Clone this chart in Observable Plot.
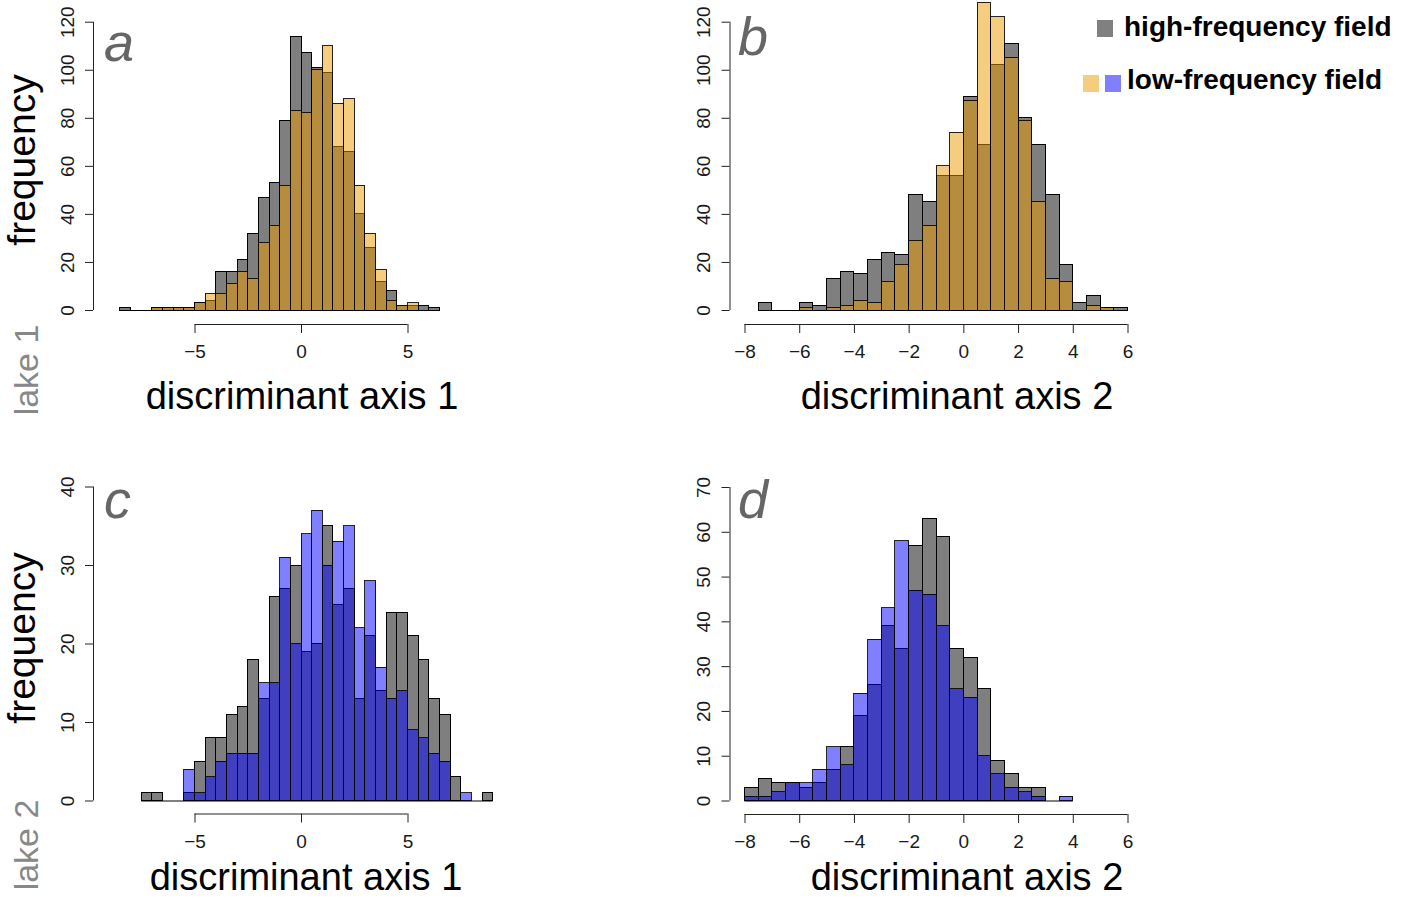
<!DOCTYPE html>
<html><head><meta charset="utf-8">
<script src="https://cdn.jsdelivr.net/npm/d3@7"></script>
<script src="https://cdn.jsdelivr.net/npm/@observablehq/plot@0.6"></script>
<style>
body{margin:0;background:#fff;font-family:"Liberation Sans",Arial,Helvetica,sans-serif;}
#page{position:relative;width:1405px;height:899px;overflow:hidden;background:#fff;}
.abs{position:absolute;white-space:nowrap;line-height:1;}
#page svg{position:absolute;overflow:visible;}
#page svg rect{shape-rendering:crispEdges;}
</style></head><body><div id="page"></div>
<script>
// ---------- data (histogram counts, bin width 0.5) ----------
const binWidth = 0.5;
const highColor = "#000000";      // drawn at 50% opacity -> grey
const lowColorLake1 = "#ee9a00";  // orange, 50% opacity
const lowColorLake2 = "#0000ff";  // blue, 50% opacity

// panel a: lake 1, discriminant axis 1
const binsA = [-8.5,-8,-7.5,-7,-6.5,-6,-5.5,-5,-4.5,-4,-3.5,-3,-2.5,-2,-1.5,-1,-0.5,0,0.5,1,1.5,2,2.5,3,3.5,4,4.5,5,5.5,6];
const highA = [1,0,0,1,1,1,1,3,4,16,16,21,32,47,53,79,114,107,101,99,68,66,40,26,12,8,2,2,2,1];
const lowA  = [0,0,0,1,1,1,1,3,7,7,11,16,13,28,35,52,83,82,100,110,86,88,52,32,17,4,2,3,0,0];

// panel b: lake 1, discriminant axis 2
const binsB = [-7.5,-7,-6.5,-6,-5.5,-5,-4.5,-4,-3.5,-3,-2.5,-2,-1.5,-1,-0.5,0,0.5,1,1.5,2,2.5,3,3.5,4,4.5,5,5.5];
const highB = [3,0,0,3,2,13,16,15,21,24,23,48,45,56,56,89,69,102,111,80,69,48,19,3,6,1,1];
const lowB  = [0,0,0,1,0,1,2,4,3,12,19,29,35,60,74,87,128,122,105,79,45,13,12,0,2,1,0];

// panel c: lake 2, discriminant axis 1
const binsC = [-7.5,-7,-6.5,-6,-5.5,-5,-4.5,-4,-3.5,-3,-2.5,-2,-1.5,-1,-0.5,0,0.5,1,1.5,2,2.5,3,3.5,4,4.5,5,5.5,6,6.5,7,7.5,8,8.5];
const highC = [1,1,0,0,1,5,8,8,11,12,18,13,26,27,30,19,20,35,25,27,13,21,14,24,24,21,18,13,11,3,0,0,1];
const lowC  = [0,0,0,0,4,1,3,5,6,6,6,15,15,31,20,34,37,30,33,35,22,28,17,13,14,9,8,6,5,0,1,0,0];

// panel d: lake 2, discriminant axis 2
const binsD = [-8,-7.5,-7,-6.5,-6,-5.5,-5,-4.5,-4,-3.5,-3,-2.5,-2,-1.5,-1,-0.5,0,0.5,1,1.5,2,2.5,3,3.5];
const highD = [3,5,4,4,3,4,7,12,19,26,39,34,57,63,59,34,32,25,9,6,3,3,0,0];
const lowD  = [1,1,2,4,4,7,12,8,24,36,43,58,47,46,39,25,23,10,6,3,2,1,0,1];

// tick values
const xTicksAxis1 = [-5, 0, 5];
const xTicksAxis2 = [-8, -6, -4, -2, 0, 2, 4, 6];
const yTicksLake1 = [0, 20, 40, 60, 80, 100, 120];
const yTicksLake2c = [0, 10, 20, 30, 40];
const yTicksLake2d = [0, 10, 20, 30, 40, 50, 60, 70];

// text
const panelLetters = ["a", "b", "c", "d"];
const xTitles = ["discriminant axis 1", "discriminant axis 2"];
const yTitle = "frequency";
const lakeLabels = ["lake 1", "lake 2"];
const legendLabels = ["high-frequency field", "low-frequency field"];

// ---------- drawing ----------
const page = document.getElementById("page");
const FONT = '"Liberation Sans", Arial, Helvetica, sans-serif';
const TICK_FS = 19;
const fmt = d => d < 0 ? "\u2212" + (-d) : String(d);

function rows(bins, counts) {
  return bins.map((b, i) => ({x1: b, x2: b + binWidth, n: counts[i]}));
}

function panel(o) {
  const W = o.width, H = o.height;
  const xl = o.xPx[0] - o.left, xr = o.xPx[1] - o.left;
  const yb = o.yPx[0] - o.top, yt = o.yPx[1] - o.top;
  const hi = rows(o.bins, o.high), lo = rows(o.bins, o.low);
  const dxAxis = (o.yAxisX - o.left) - xl;
  const dyAxis = (o.xAxisY - o.top) - yb;
  const svg = Plot.plot({
    width: W, height: H,
    marginLeft: xl, marginRight: W - xr, marginTop: yt, marginBottom: H - yb,
    x: {domain: d3.extent(o.xTicks)},
    y: {domain: d3.extent(o.yTicks)},
    style: {background: "transparent", overflow: "visible", fontFamily: FONT, fontSize: TICK_FS + "px", color: "#1a1a1a"},
    marks: [
      Plot.ruleY([0], {x1: d3.min(hi, d => d.x1), x2: d3.max(hi, d => d.x2), stroke: "#000", strokeWidth: 1}),
      Plot.rectY(hi, {x1: "x1", x2: "x2", y: "n", fill: highColor, fillOpacity: 0.5, stroke: "#000", strokeWidth: 1}),
      Plot.rectY(lo, {x1: "x1", x2: "x2", y: "n", fill: o.lowColor, fillOpacity: 0.5, stroke: "#000", strokeOpacity: 0.85, strokeWidth: 1}),
      // x axis (R style, offset below the bars)
      Plot.ruleY([0], {dy: dyAxis, stroke: "#222", strokeWidth: 1}),
      Plot.axisX(o.xTicks, {anchor: "bottom", dy: dyAxis, tickSize: 9, tickPadding: 11, tickFormat: fmt, fontSize: TICK_FS, stroke: "#222", label: null}),
      // y axis
      Plot.ruleX([o.xTicks[0]], {dx: dxAxis, stroke: "#222", strokeWidth: 1}),
      Plot.axisY(o.yTicks, {anchor: "left", dx: dxAxis, tickSize: 8, tickPadding: 12, tickRotate: -90, tickFormat: fmt, fontSize: TICK_FS, stroke: "#222", label: null})
    ]
  });
  svg.style.left = o.left + "px";
  svg.style.top = o.top + "px";
  page.appendChild(svg);
}

panel({left: 0, top: 0, width: 700, height: 440, bins: binsA, high: highA, low: lowA, lowColor: lowColorLake1,
  xTicks: xTicksAxis1, xPx: [194.5, 407.5], yTicks: yTicksLake1, yPx: [310, 21.7], yAxisX: 93, xAxisY: 324});
panel({left: 700, top: 0, width: 705, height: 440, bins: binsB, high: highB, low: lowB, lowColor: lowColorLake1,
  xTicks: xTicksAxis2, xPx: [744.5, 1127.5], yTicks: yTicksLake1, yPx: [310, 21.7], yAxisX: 729.5, xAxisY: 324});
panel({left: 0, top: 440, width: 700, height: 459, bins: binsC, high: highC, low: lowC, lowColor: lowColorLake2,
  xTicks: xTicksAxis1, xPx: [194.5, 407.5], yTicks: yTicksLake2c, yPx: [800.5, 486.5], yAxisX: 93, xAxisY: 813.5});
panel({left: 700, top: 440, width: 705, height: 459, bins: binsD, high: highD, low: lowD, lowColor: lowColorLake2,
  xTicks: xTicksAxis2, xPx: [744.5, 1127.5], yTicks: yTicksLake2d, yPx: [800.5, 487], yAxisX: 729.5, xAxisY: 814});

// ---------- text labels ----------
function addText(txt, {x, y, size, color = "#000", weight = "normal", style = "normal", anchor = "start", rotate = false, parent = page}) {
  const d = document.createElement("div");
  d.className = "abs";
  d.textContent = txt;
  d.style.fontSize = size + "px";
  d.style.color = color;
  d.style.fontWeight = weight;
  d.style.fontStyle = style;
  d.style.fontFamily = FONT;
  if (rotate) {
    d.style.left = x + "px";
    d.style.top = y + "px";
    d.style.transform = "translate(-50%,-50%) rotate(-90deg)";
  } else {
    d.style.left = x + "px";
    d.style.top = (y - 0.8465 * size) + "px"; // y = baseline
    if (anchor === "middle") d.style.transform = "translateX(-50%)";
  }
  parent.appendChild(d);
  return d;
}

// panel letters
addText(panelLetters[0], {x: 104, y: 61, size: 54, color: "#666", style: "italic"});
addText(panelLetters[1], {x: 738, y: 55, size: 54, color: "#666", style: "italic"});
addText(panelLetters[2], {x: 104, y: 518, size: 54, color: "#666", style: "italic"});
addText(panelLetters[3], {x: 738, y: 518, size: 54, color: "#666", style: "italic"});

// x titles
addText(xTitles[0], {x: 302, y: 409, size: 38, anchor: "middle"});
addText(xTitles[1], {x: 957, y: 409, size: 38, anchor: "middle"});
addText(xTitles[0], {x: 306, y: 890, size: 38, anchor: "middle"});
addText(xTitles[1], {x: 967, y: 890, size: 38, anchor: "middle"});

// y titles
addText(yTitle, {x: 21, y: 160, size: 39, rotate: true});
addText(yTitle, {x: 21, y: 638, size: 39, rotate: true});
addText(lakeLabels[0], {x: 26, y: 370, size: 34, color: "#888", rotate: true});
addText(lakeLabels[1], {x: 26, y: 845, size: 34, color: "#888", rotate: true});

// legend
const leg = document.createElement("div");
leg.style.cssText = "position:absolute;left:1070px;top:0;width:335px;height:110px;";
page.appendChild(leg);
function sq(x, y, c) {
  const s = document.createElement("div");
  s.style.cssText = `position:absolute;left:${x - 1070}px;top:${y}px;width:16px;height:17px;background:${c};`;
  leg.appendChild(s);
}
sq(1097, 20, "#808080");
sq(1083, 75, "#f6cc7f");
sq(1105, 75, "#8080ff");
function legText(t, x, baseline) {
  const d = document.createElement("div");
  d.className = "abs";
  d.textContent = t;
  d.style.cssText += `left:${x - 1070}px;top:${baseline - 0.8465 * 28}px;font-size:28px;font-weight:bold;color:#000;font-family:${FONT};`;
  leg.appendChild(d);
}
legText(legendLabels[0], 1124, 37);
legText(legendLabels[1], 1127, 90);
</script>
</body></html>
